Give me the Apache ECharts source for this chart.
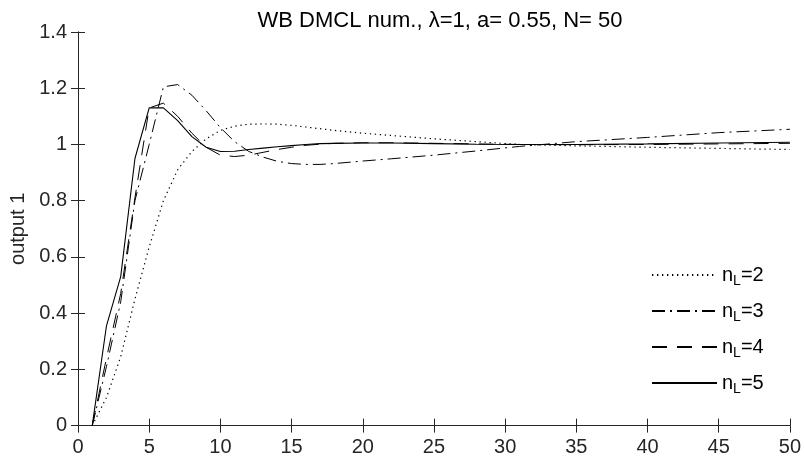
<!DOCTYPE html>
<html>
<head>
<meta charset="utf-8">
<script src="https://cdn.jsdelivr.net/npm/echarts@6/dist/echarts.min.js"></script>
<style>
html,body{margin:0;padding:0;background:#fff;}
#chart{width:804px;height:462px;}
</style>
</head>
<body>
<div id="chart"></div>
<script>
var kValues = [1,2,3,4,5,6,7,8,9,10,11,12,13,14,15,16,17,18,20,22,25,28,31,35,40,45,50];
var nL2 = [0,0.10,0.245,0.45,0.635,0.80,0.91,0.975,1.02,1.05,1.065,1.072,1.073,1.072,1.068,1.062,1.056,1.05,1.04,1.032,1.02,1.01,1.0,0.995,0.99,0.986,0.982];
var nL3 = [0,0.21,0.44,0.80,1.0,1.205,1.213,1.175,1.12,1.06,1.01,0.975,0.955,0.94,0.932,0.929,0.929,0.932,0.941,0.949,0.962,0.977,0.993,1.01,1.025,1.042,1.054];
var nL4 = [0,0.24,0.47,0.81,1.13,1.147,1.10,1.04,0.99,0.962,0.957,0.962,0.972,0.982,0.99,0.997,1.001,1.004,1.006,1.006,1.004,1.002,1.0,0.999,1.0,1.002,1.004];
var nL5 = [0,0.355,0.53,0.95,1.13,1.13,1.085,1.028,0.99,0.975,0.976,0.982,0.987,0.992,0.996,1.0,1.003,1.004,1.005,1.005,1.003,1.001,1.0,1.0,1.002,1.005,1.008];
var seriesNames = ['n{sub|L}=2','n{sub|L}=3','n{sub|L}=4','n{sub|L}=5'];
var xTicks = [0,5,10,15,20,25,30,35,40,45,50];
var yTicks = [0,0.2,0.4,0.6,0.8,1,1.2,1.4];
var titleText = 'WB DMCL num., \u03bb=1, a= 0.55, N= 50';
var yName = 'output 1';

var FONT = '"Liberation Sans", Arial, Helvetica, sans-serif';
var AX = '#262626';
function pairs(vals){ return kValues.map(function(k,i){ return [k, vals[i]]; }); }
var dashTypes = [[1.3,3.7],[13,5,2,5],[15,10],'solid'];
var widths = [1.2,1,1,1.1];
var allVals = [nL2,nL3,nL4,nL5];

var chart = echarts.init(document.getElementById('chart'), null, {renderer:'canvas'});
var baseAxisX = {
  type:'value', min:xTicks[0], max:xTicks[xTicks.length-1], interval:5,
  axisLine:{show:true, lineStyle:{color:AX, width:1}},
  axisTick:{show:true, inside:true, length:7, lineStyle:{color:AX}},
  splitLine:{show:false}
};
var baseAxisY = {
  type:'value', min:yTicks[0], max:yTicks[yTicks.length-1], interval:0.2,
  axisLine:{show:true, lineStyle:{color:AX, width:1}},
  axisTick:{show:true, inside:true, length:7, lineStyle:{color:AX}},
  splitLine:{show:false}
};
var option = {
  animation:false,
  backgroundColor:'#fff',
  title:{text:titleText, left:435, textAlign:'center', top:5,
    textStyle:{fontFamily:FONT, fontSize:22, fontWeight:'normal', color:'#000'}},
  grid:{left:78, right:13, top:32, bottom:36.4, containLabel:false},
  legend:{
    orient:'vertical', left:651, top:265, padding:0, itemWidth:65, itemHeight:24, itemGap:13,
    data:seriesNames,
    itemStyle:{opacity:0, color:'transparent', borderWidth:0},
    textStyle:{fontFamily:FONT, fontSize:20, color:'#000', verticalAlign:'top',
      rich:{sub:{fontFamily:FONT, fontSize:14, color:'#000', padding:[12,0,0,0], verticalAlign:'bottom'}}}
  },
  xAxis:[
    Object.assign({}, baseAxisX, {position:'bottom',
      axisLabel:{show:true, margin:12, fontFamily:FONT, fontSize:20, color:AX}}),
    Object.assign({}, baseAxisX, {position:'top', axisLabel:{show:false}})
  ],
  yAxis:[
    Object.assign({}, baseAxisY, {position:'left', name:yName, nameLocation:'middle', nameGap:30,
      nameTextStyle:{fontFamily:FONT, fontSize:20, color:AX},
      axisLabel:{show:true, margin:11, fontFamily:FONT, fontSize:20, color:AX}}),
    Object.assign({}, baseAxisY, {position:'right', axisLabel:{show:false}})
  ],
  series: allVals.map(function(v,i){
    return {
      name:seriesNames[i], type:'line', xAxisIndex:0, yAxisIndex:0,
      data:pairs(v), symbol:'none', showSymbol:false, smooth:false,
      lineStyle:{color:'#000', width:widths[i], type:dashTypes[i]},
      itemStyle:{color:'#000'}
    };
  })
};
chart.setOption(option);
</script>
</body>
</html>
